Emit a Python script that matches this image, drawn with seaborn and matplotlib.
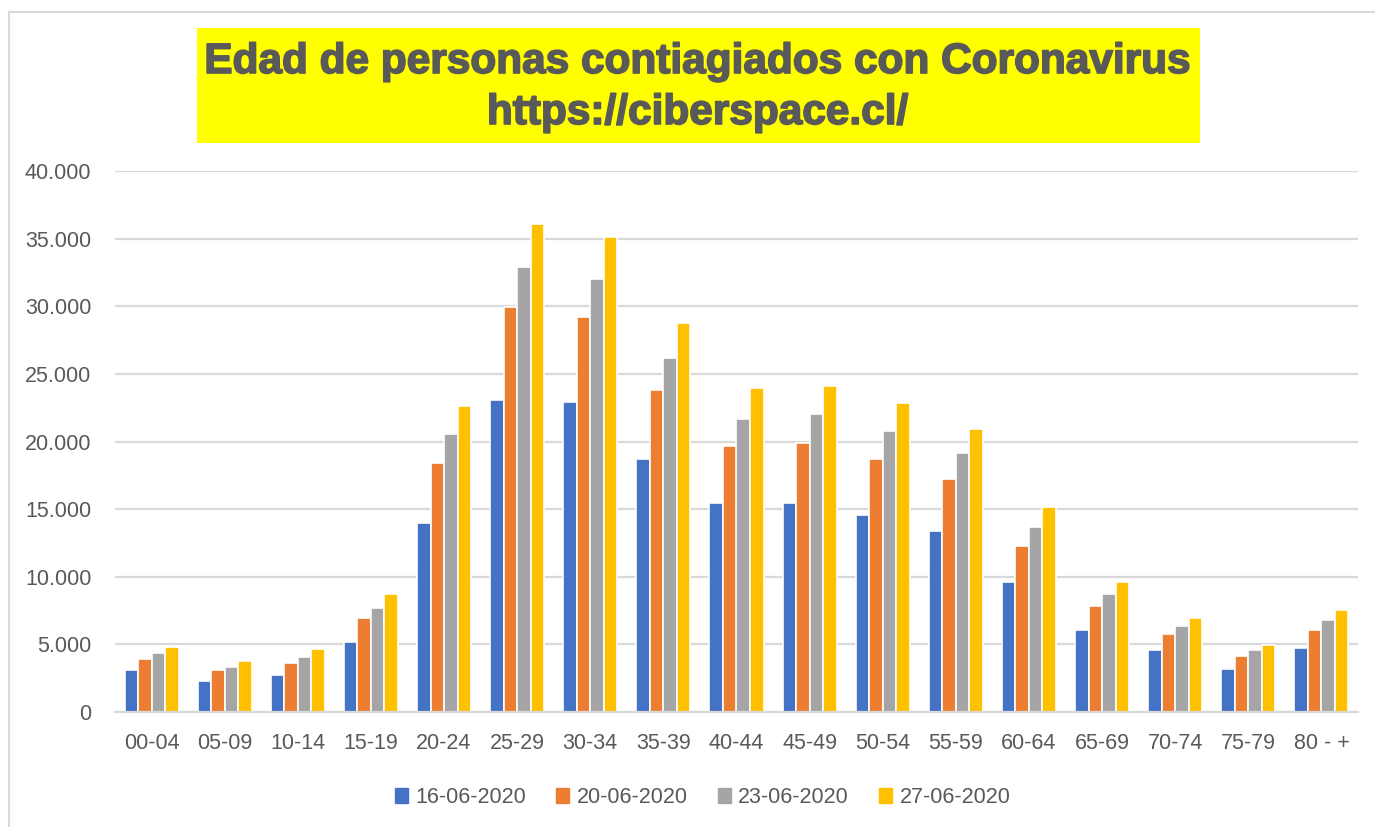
import numpy as np
import pandas as pd
import matplotlib
matplotlib.use('Agg')
import matplotlib.pyplot as plt
import matplotlib.patheffects as pe
from matplotlib.patches import Rectangle
from matplotlib.lines import Line2D
from matplotlib.ticker import FuncFormatter, MultipleLocator
import seaborn as sns

sns.set_style('white')
plt.rcParams['font.family'] = ['Liberation Sans', 'DejaVu Sans']

# Age groups (x axis)
age_groups = ['00-04', '05-09', '10-14', '15-19', '20-24', '25-29', '30-34',
              '35-39', '40-44', '45-49', '50-54', '55-59', '60-64', '65-69',
              '70-74', '75-79', '80 - +']

# Cases per report date
dates = ['16-06-2020', '20-06-2020', '23-06-2020', '27-06-2020']
cases_1606 = [3070, 2300, 2770, 5150, 13950, 23040, 22900, 18740, 15450,
              15450, 14550, 13370, 9640, 6050, 4580, 3210, 4710]
cases_2006 = [3950, 3070, 3640, 6960, 18440, 29920, 29180, 23810, 19640,
              19920, 18740, 17260, 12300, 7840, 5780, 4110, 6050]
cases_2306 = [4380, 3340, 4080, 7700, 20520, 32900, 32000, 26190, 21700,
              22000, 20790, 19180, 13670, 8740, 6360, 4580, 6790]
cases_2706 = [4820, 3780, 4680, 8740, 22600, 36050, 35150, 28740, 23950,
              24080, 22880, 20960, 15150, 9640, 6960, 4990, 7530]

colors = ['#4472C4', '#ED7D31', '#A5A5A5', '#FFC000']
text_color = '#595959'
grid_color = '#D9D9D9'
font_size = 15.5

df = pd.DataFrame({
    'Edad': age_groups * 4,
    'Casos': cases_1606 + cases_2006 + cases_2306 + cases_2706,
    'Fecha': np.repeat(dates, len(age_groups)),
})

fig = plt.figure(figsize=(13.75, 8.27), dpi=100)
ax = fig.add_axes([115 / 1375, 1 - 712 / 827, 1243 / 1375, 541 / 827])

sns.barplot(data=df, x='Edad', y='Casos', hue='Fecha', palette=colors,
            width=0.74, edgecolor='white', linewidth=1.2, errorbar=None,
            saturation=1, ax=ax)

ax.set_ylim(0, 40000)
ax.set_xlim(-0.5, len(age_groups) - 0.5)
ax.yaxis.set_major_locator(MultipleLocator(5000))
ax.yaxis.set_major_formatter(
    FuncFormatter(lambda v, p: f'{int(v):,}'.replace(',', '.')))
ax.grid(axis='y', color=grid_color, linewidth=1.6)
ax.set_axisbelow(True)
for side in ['top', 'right', 'left']:
    ax.spines[side].set_visible(False)
ax.spines['bottom'].set_color(grid_color)
ax.spines['bottom'].set_linewidth(1.6)
ax.set_xlabel('')
ax.set_ylabel('')
ax.tick_params(axis='y', length=0, pad=17, labelsize=font_size,
               labelcolor=text_color)
ax.tick_params(axis='x', length=0, pad=15, labelsize=font_size,
               labelcolor=text_color)

# Legend below the axis
handles = [Rectangle((0, 0), 1, 1, color=c) for c in colors]
ax.legend(handles, dates, loc='center', bbox_to_anchor=(0.511, 0.036),
          bbox_transform=fig.transFigure, ncol=4, frameon=False,
          fontsize=font_size, handlelength=0.6, handleheight=0.7,
          handletextpad=0.35, columnspacing=1.4, labelcolor=text_color)

# Yellow title box
fig.patches.append(Rectangle((197 / 1375, 1 - 143 / 827), 1003 / 1375,
                             115 / 827, transform=fig.transFigure,
                             facecolor='#FFFF00', edgecolor='none',
                             zorder=0))
heavy = [pe.withStroke(linewidth=1.2, foreground=text_color)]
fig.text(698 / 1375, 1 - 62 / 827,
         'Edad de personas contiagiados con Coronavirus',
         ha='center', va='center', fontsize=30.5, fontweight='bold',
         color=text_color, path_effects=heavy)
fig.text(698 / 1375, 1 - 113 / 827, 'https://ciberspace.cl/',
         ha='center', va='center', fontsize=30.5, fontweight='bold',
         color=text_color, path_effects=heavy)

# Chart area border (left and top edges)
fig.lines.append(Line2D([9 / 1375, 9 / 1375], [0, 1 - 12 / 827],
                        transform=fig.transFigure, color=grid_color,
                        linewidth=1.5))
fig.lines.append(Line2D([9 / 1375, 1], [1 - 12 / 827, 1 - 12 / 827],
                        transform=fig.transFigure, color=grid_color,
                        linewidth=1.5))

fig.savefig('out.png', dpi=100)
